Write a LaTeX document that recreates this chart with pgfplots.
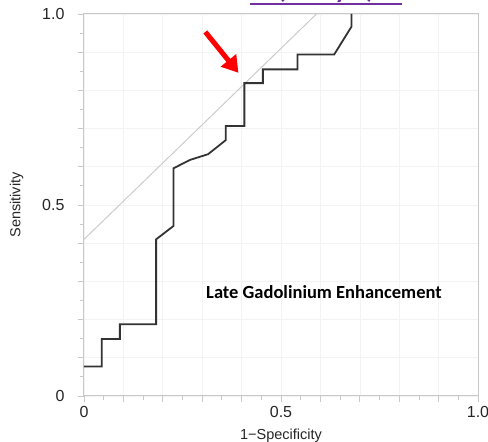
\documentclass[border=0pt]{standalone}
\usepackage{pgfplots}
\pgfplotsset{compat=1.18}
\usepackage{fontspec}
\setmainfont{Liberation Sans}
\newfontfamily\calibri{Carlito}
\usetikzlibrary{arrows.meta}
\definecolor{axgray}{HTML}{C8C8C8}
\definecolor{gridgray}{HTML}{F3F3F3}
\definecolor{curve}{HTML}{333333}
\definecolor{refline}{HTML}{CCCCCC}
\definecolor{linkpurple}{HTML}{7030A0}

\begin{document}
\begin{tikzpicture}
% fix the page to the reference's 488x442 frame (1px = 1pt)
\path[use as bounding box] (-84pt,-46pt) rectangle (404pt,396pt);
% cut-off heading above the chart
\node[overlay,anchor=base,text=linkpurple,font=\calibri\bfseries\fontsize{26}{26}\selectfont] at (242pt,397pt) {(Study 2)};
\draw[linkpurple,line width=2pt] (166pt,392pt) -- (318pt,392pt);
\begin{axis}[at={(0pt,0pt)},anchor=south west,scale only axis,
  width=394pt,height=382pt,
  xmin=0,xmax=1,ymin=0,ymax=1,
  axis line style={axgray,line width=1pt},
  xtick={0,0.1,0.2,0.3,0.4,0.5,0.6,0.7,0.8,0.9,1},
  ytick={0,0.1,0.2,0.3,0.4,0.5,0.6,0.7,0.8,0.9,1},
  xticklabels={0,,,,,0.5,,,,,1.0},
  yticklabels={0,,,,,0.5,,,,,1.0},
  minor tick num=1,
  tick align=outside, tick pos=left,
  major tick length=6pt, minor tick length=4pt,
  tick style={axgray,line width=0.8pt},
  grid=major, major grid style={gridgray,line width=0.6pt},
  /pgf/number format/assume math mode=true,
  tick label style={font=\fontsize{16}{16}\selectfont,text=black!85},
  xticklabel style={yshift=-1pt},
  yticklabel style={xshift=-10pt},
  xlabel={1−Specificity}, ylabel={Sensitivity},
  label style={font=\fontsize{14.5}{14.5}\selectfont,text=black!85},
  xlabel style={yshift=-4pt},
  ylabel style={yshift=12pt},
  clip=false]
  % tangent reference line
  \addplot[refline,line width=1pt] coordinates {(0,0.41)(0.59,1.0)};
  % ROC curve
  \addplot[curve,line width=1.8pt,sharp plot] coordinates {
    (0,0.077)(0.045,0.077)(0.045,0.149)(0.091,0.149)(0.091,0.188)
    (0.183,0.188)(0.183,0.410)(0.227,0.445)(0.227,0.596)(0.269,0.618)
    (0.315,0.633)(0.360,0.670)(0.360,0.707)(0.407,0.707)(0.407,0.819)
    (0.454,0.819)(0.454,0.855)(0.542,0.855)(0.542,0.894)(0.635,0.894)
    (0.679,0.967)(0.679,1.0)};
  \draw[red,line width=5pt,-{Triangle[length=16pt,width=19pt]}]
    (axis cs:0.308,0.953) -- (axis cs:0.392,0.846);
  \node[font=\calibri\bfseries\fontsize{18.5}{18.5}\selectfont] at (axis cs:0.609,0.272) {Late Gadolinium Enhancement};
\end{axis}
\end{tikzpicture}
\end{document}
